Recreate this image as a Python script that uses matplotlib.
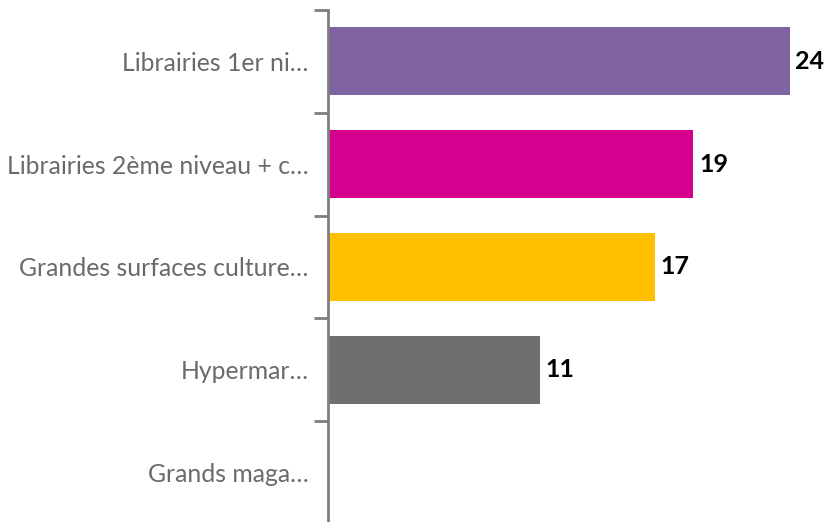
import matplotlib
matplotlib.use("Agg")
import matplotlib.pyplot as plt
import numpy as np

categories = ["Librairies 1er ni…", "Librairies 2ème niveau + c…", "Grandes surfaces culture…",
              "Hypermar…", "Grands maga…"]
values = [24, 19, 17, 11, np.nan]
colors = ["#8064A2", "#D6008F", "#FFC000", "#6F6F6F", "#6F6F6F"]

plt.rcParams['font.family'] = ['Lato', 'DejaVu Sans']

fig = plt.figure(figsize=(8.28, 5.22), dpi=100)
ax = fig.add_axes([328/828, -2/522, 500/828, 1 - 10/522 + 2/522])

y = np.arange(len(categories))
vals = [0 if np.isnan(v) else v for v in values]
ax.barh(y, vals, height=0.66, color=colors)
for yi, v in zip(y, values):
    if not np.isnan(v):
        ax.text(v + 0.3, yi, f"{v:g}", va="center", ha="left", fontsize=18,
                fontweight="bold", color="black")

ax.set_xlim(0, 26)
ax.set_ylim(len(categories) - 0.5, -0.5)
ax.set_yticks(y)
ax.set_yticklabels(categories, fontsize=17.8, color="#6A6A6A")
ax.set_yticks(np.arange(-0.5, len(categories), 1), minor=True)
ax.tick_params(axis="y", which="major", length=0, pad=14)
ax.tick_params(axis="y", which="minor", length=10, width=2, color="#7F7F7F")
ax.set_xticks([])
for s in ["top", "right", "bottom"]:
    ax.spines[s].set_visible(False)
ax.spines["left"].set_color("#7F7F7F")
ax.spines["left"].set_linewidth(2)

fig.savefig("out.png", dpi=100)
